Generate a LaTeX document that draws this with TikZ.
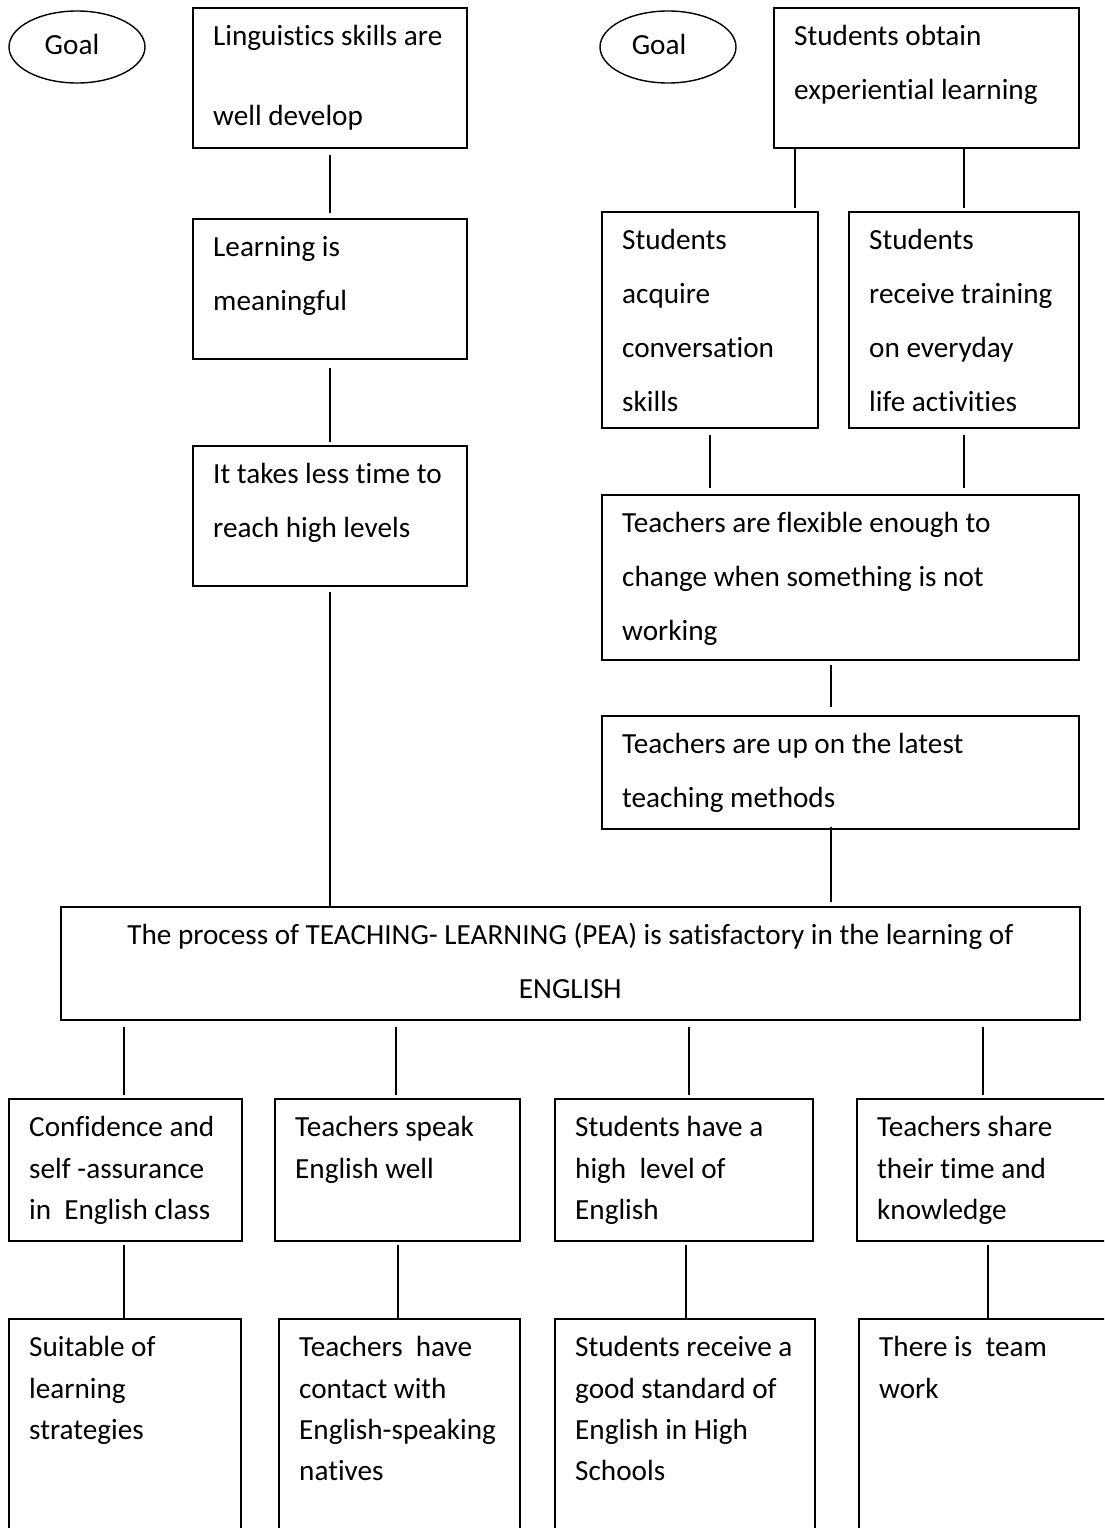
\documentclass[tikz,border=0pt]{standalone}
\usepackage{fontspec}
\setmainfont{Carlito}[RawFeature={-liga;-dlig;-clig}]
\usetikzlibrary{shapes.geometric}
\newcommand\strutA{\rule{0pt}{23pt}}
\tikzset{
  box/.style={draw, line width=1.6pt, inner sep=0pt, anchor=north west},
  txt/.style={anchor=north west, inner sep=0pt, align=left, font=\fontsize{29.2}{54}\selectfont},
  txts/.style={anchor=north west, inner sep=0pt, align=left, font=\fontsize{29.2}{41.3}\selectfont},
  goal/.style={draw, ellipse, line width=1.4pt, inner sep=0pt},
  goaltxt/.style={anchor=base, inner sep=0pt, font=\fontsize{29.2}{34}\selectfont},
  link/.style={line width=1.6pt}
}
% name, x, y, w, h, text style, text
\newcommand\mybox[7]{%
  \node[box, minimum width=#4pt, minimum height=#5pt] (#1) at (#2,#3) {};
  \node[#6] (#1t) at ([xshift=21pt,yshift=-15.5pt]#1.north west) {\strutA #7};
}
\begin{document}
\begin{tikzpicture}[x=1pt,y=-1pt]
\useasboundingbox (0,0) rectangle (1104,1528);
\fill[white] (0,0) rectangle (1104,1528);
\clip (0,0) rectangle (1104,1528);

% goals
\node[goal, minimum width=136pt, minimum height=72pt] (g1) at (77,47) {};
\node[goaltxt] (g1t) at (72,55) {Goal};
\node[goal, minimum width=136pt, minimum height=72pt] (g2) at (668,47) {};
\node[goaltxt] (g2t) at (659,55) {Goal};

% left column
\mybox{box1}{192}{7}{274}{140}{txt}{Linguistics skills are\\[26pt] well develop}
\mybox{learn}{192}{218}{274}{140}{txt}{Learning is\\ meaningful}
\mybox{takes}{192}{445}{274}{140}{txt}{It takes less time to\\ reach high levels}

% right column
\mybox{box2}{773}{7}{305}{140}{txt}{Students obtain\\ experiential learning}
\mybox{sa}{601}{211}{216}{216}{txt}{Students\\ acquire\\ conversation\\ skills}
\mybox{sb}{848}{211}{230}{216}{txt}{Students\\ receive training\\ on everyday\\ life activities}
\mybox{flex}{601}{494}{477}{165}{txt}{Teachers are flexible enough to\\ change when something is not\\ working}
\mybox{latest}{601}{715}{477}{113}{txt}{Teachers are up on the latest\\ teaching methods}

% central box
\node[box, minimum width=1019pt, minimum height=113pt] (pea) at (60,906) {};
\node[txt, anchor=north, align=center] (peat) at ([yshift=-15.5pt]pea.north) {\strutA The process of TEACHING- LEARNING (PEA) is satisfactory in the learning of\\ ENGLISH};

% middle row
\mybox{r1}{8}{1098}{233}{142}{txts}{Confidence and\\ self -assurance\\ in\ \ English class}
\mybox{r2}{274}{1098}{245}{142}{txts}{Teachers speak\\ English well}
\mybox{r3}{554}{1098}{258}{142}{txts}{Students have a\\ high\ \ level of\\ English}
\mybox{r4}{856}{1098}{300}{142}{txts}{Teachers share\\ their time and\\ knowledge}

% bottom row
\mybox{b1}{8}{1318}{232}{260}{txts}{Suitable of\\ learning\\ strategies}
\mybox{b2}{278}{1318}{241}{260}{txts}{Teachers\ \ have\\ contact with\\ English-speaking\\ natives}
\mybox{b3}{554}{1318}{260}{260}{txts}{Students receive a\\ good standard of\\ English in High\\ Schools}
\mybox{b4}{858}{1318}{300}{260}{txts}{There is\ \ team\\ work}

% helper coordinates
\coordinate (c1) at (795,0);
\coordinate (c2) at (831,0);
\coordinate (k1) at (124,0);
\coordinate (k2) at (396,0);
\coordinate (k3) at (689,0);
\coordinate (k4) at (983,0);
\coordinate (j1) at (124,0);
\coordinate (j2) at (398,0);
\coordinate (j3) at (686,0);
\coordinate (j4) at (988,0);

% connectors
\draw[link, shorten <=6pt, shorten >=5pt] (box1.south) -- (learn.north);
\draw[link, shorten <=8pt, shorten >=3pt] (learn.south) -- (takes.north);
\draw[link, shorten <=5pt] (takes.south) -- (takes.south |- pea.north);
\draw[link, shorten >=3pt] (box2.south -| c1) -- (sa.north -| c1);
\draw[link, shorten >=3pt] (box2.south -| sb.north) -- (sb.north);
\draw[link, shorten <=6pt, shorten >=6pt] (sa.south) -- (sa.south |- flex.north);
\draw[link, shorten <=6pt, shorten >=6pt] (sb.south) -- (sb.south |- flex.north);
\draw[link, shorten <=4pt, shorten >=8pt] (flex.south -| c2) -- (latest.north -| c2);
\draw[link, shorten <=-3pt, shorten >=4pt] (latest.south -| c2) -- (pea.north -| c2);

\draw[link, shorten <=6pt, shorten >=3pt] (pea.south -| k1) -- (r1.north -| k1);
\draw[link, shorten <=6pt, shorten >=3pt] (pea.south -| k2) -- (r2.north -| k2);
\draw[link, shorten <=6pt, shorten >=3pt] (pea.south -| k3) -- (r3.north -| k3);
\draw[link, shorten <=6pt, shorten >=3pt] (pea.south -| k4) -- (r4.north -| k4);

\draw[link, shorten <=3pt] (r1.south -| j1) -- (b1.north -| j1);
\draw[link, shorten <=3pt] (r2.south -| j2) -- (b2.north -| j2);
\draw[link, shorten <=3pt] (r3.south -| j3) -- (b3.north -| j3);
\draw[link, shorten <=3pt] (r4.south -| j4) -- (b4.north -| j4);
\end{tikzpicture}
\end{document}
